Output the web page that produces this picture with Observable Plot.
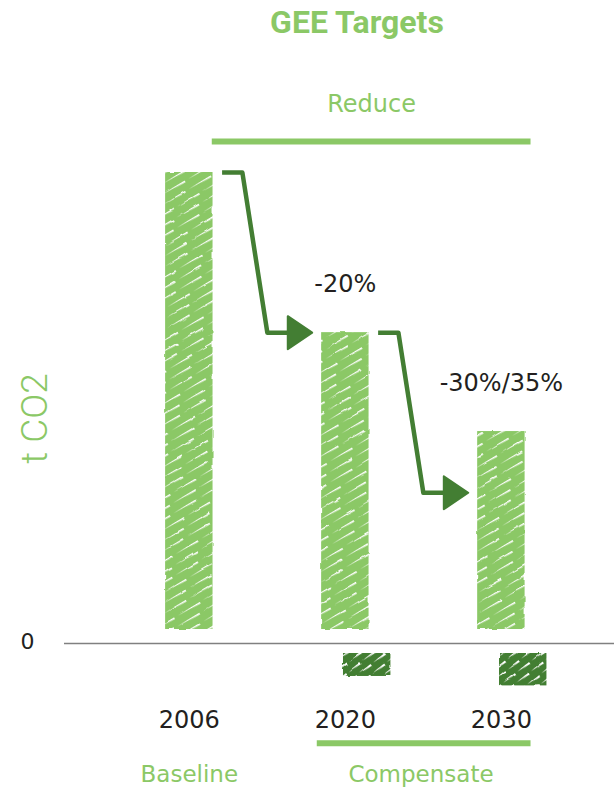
<!DOCTYPE html>
<html>
<head>
<meta charset="utf-8">
<script src="https://cdn.jsdelivr.net/npm/d3@7"></script>
<script src="https://cdn.jsdelivr.net/npm/@observablehq/plot@0.6"></script>
<style>
  body { margin: 0; background: #fff; }
  #title {
    width: 514px; height: 47px; line-height: 50px; padding: 3px 0 0 100px; overflow: hidden;
    font: 700 32px Roboto, sans-serif; color: #8bc866; text-align: center;
  }
</style>
</head>
<body>
<div id="title">GEE Targets</div>
<div id="chart"></div>
<script>
// Emissions per milestone year (baseline = 100)
const years = ["2006", "2020", "2030"];
const emissions = [100, 66, 45];
const targetLabels = ["", "-20%", "-30%/35%"];

// Compensated share shown below zero
const compensationYears = ["2020", "2030"];
const compensation = [-7, -9];

// Levels the two reduction arrows step down to
const arrowLevels = [66, 32];

// Phase brackets
const phaseNames = ["Reduce", "Compensate", "Baseline"];

const LIGHT = "#8bc866";
const DARK = "#437e33";
const INK = "#231f20";
const FONT = "'DejaVu Sans', sans-serif";

const bars = years.map((year, i) => ({i, year, value: emissions[i], label: targetLabels[i]}));
const comp = compensationYears.map((y, k) => ({i: years.indexOf(y), value: compensation[k]}));

// Each arrow: short run right from the bar top, a slanted drop, then a run into the head
const arrowPts = arrowLevels.flatMap((to, k) => {
  const from = emissions[k];
  return [
    {k, x: k + 0.21, y: from},
    {k, x: k + 0.34, y: from},
    {k, x: k + 0.50, y: to},
    {k, x: k + 0.70, y: to}
  ];
});
const arrowHeads = arrowLevels.map((to, k) => ({k, x: k + 0.705, y: to}));

const arrowHead = {
  draw(context, size) {
    const r = Math.sqrt(size / Math.PI);
    context.moveTo(-0.7 * r, -r);
    context.lineTo(0.78 * r, 0);
    context.lineTo(-0.7 * r, r);
    context.closePath();
  }
};

const half = 0.152;
const reduceLevel = 106.6, compensateLevel = -21.2;
const phases = [
  {name: phaseNames[0], x1: 0.147, x2: 2.19, y: reduceLevel},
  {name: phaseNames[1], x1: 0.82, x2: 2.19, y: compensateLevel}
];

const plot = Plot.plot({
  width: 614,
  height: 738,
  marginLeft: 64,
  marginRight: 0,
  marginTop: 122,
  marginBottom: 145,
  x: {domain: [-0.8, 2.725], axis: null},
  y: {domain: [0, 100], axis: null},
  style: {fontFamily: FONT, color: INK, background: "white", overflow: "visible"},
  marks: [
    Plot.ruleY([0], {stroke: "#808080", strokeWidth: 1.6}),
    Plot.text([0], {y: d => d, text: d => String(d), frameAnchor: "left", dx: -30, dy: -2, textAnchor: "end", fontSize: 22, fill: INK}),
    Plot.text(["t CO2"], {text: d => d, frameAnchor: "left", textAnchor: "middle", rotate: -90, dx: -29, dy: 10.5, fontSize: 37, fontWeight: 300, fontFamily: "Roboto, sans-serif", fill: LIGHT}),

    // emission bars
    Plot.rect(bars, {x1: d => d.i - half, x2: d => d.i + half, y1: 0, y2: "value", insetBottom: 14, fill: "url(#scribble-light)"}),
    // compensation blocks
    Plot.rect(comp, {x1: d => d.i + 0.14 - half, x2: d => d.i + 0.14 + half, y1: 0, y2: "value", insetTop: 10, fill: "url(#scribble-dark)"}),

    // reduction arrows
    Plot.line(arrowPts, {x: "x", y: "y", z: "k", stroke: DARK, strokeWidth: 4.5, strokeLinejoin: "round", strokeLinecap: "butt"}),
    Plot.dot(arrowHeads, {x: "x", y: "y", symbol: arrowHead, r: 16.5, fill: DARK, stroke: DARK, strokeWidth: 2, strokeLinejoin: "round"}),

    // target labels
    Plot.text(bars.filter(d => d.label), {x: "i", y: "value", text: "label", dy: -41, lineAnchor: "bottom", fontSize: 24, fill: INK}),

    // year labels
    Plot.text(bars, {x: "i", text: "year", frameAnchor: "bottom", dy: 84, lineAnchor: "bottom", fontSize: 24, fill: INK}),

    // phase brackets and names
    Plot.ruleY(phases, {x1: "x1", x2: "x2", y: "y", stroke: LIGHT, strokeWidth: 6}),
    Plot.text([phases[0]], {x: d => (d.x1 + d.x2) / 2, y: "y", text: "name", dy: -29, lineAnchor: "bottom", fontSize: 24, fill: LIGHT}),
    Plot.text([phases[1]], {x: d => (d.x1 + d.x2) / 2 - 0.02, y: "y", text: "name", dy: 39, lineAnchor: "bottom", fontSize: 23, fill: LIGHT}),
    Plot.text([{name: phaseNames[2], x: years.indexOf("2006")}], {x: "x", y: () => compensateLevel, text: "name", dy: 39, lineAnchor: "bottom", fontSize: 23, fill: LIGHT})
  ]
});

// hand-drawn scribble fills: tapered white gaps, staggered row to row
function gaps(w, rowH, len, thick, offsets) {
  return offsets.map((o, r) => {
    const y = r * rowH;
    return [o, o - w].map(x0 =>
      `<polygon points="${x0},${y + 0.2} ${x0 + len},${y} ${x0 + len},${y + thick}" fill="white"/>`
    ).join("");
  }).join("");
}
d3.select(plot).insert("defs", ":first-child").html(`
  <pattern id="scribble-light" patternUnits="userSpaceOnUse" width="30" height="27" patternTransform="rotate(-31)">
    <rect width="30" height="27" fill="${LIGHT}"/>
    ${gaps(30, 9, 26, 1.8, [0, 11, 5])}
  </pattern>
  <pattern id="scribble-dark" patternUnits="userSpaceOnUse" width="18" height="16" patternTransform="rotate(-38)">
    <rect width="18" height="16" fill="${DARK}"/>
    ${gaps(18, 8, 15, 2.3, [0, 7])}
  </pattern>
  <filter id="rough" x="-10%" y="-10%" width="120%" height="120%">
    <feTurbulence type="fractalNoise" baseFrequency="0.09" numOctaves="1" seed="4" result="noise"/>
    <feDisplacementMap in="SourceGraphic" in2="noise" scale="3" xChannelSelector="R" yChannelSelector="G"/>
  </filter>`);
d3.select(plot).selectAll("g[aria-label=rect]").attr("filter", "url(#rough)");

document.getElementById("chart").append(plot);
</script>
</body>
</html>
